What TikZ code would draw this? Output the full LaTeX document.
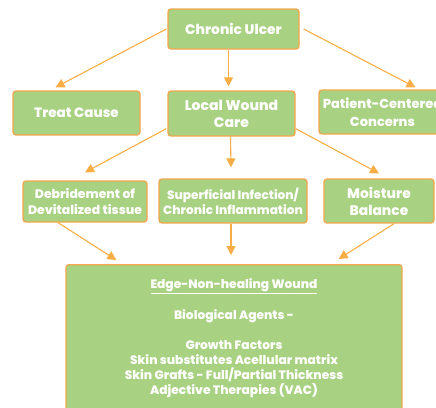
\documentclass[tikz,border=0pt]{standalone}
\usepackage{fontspec}
\setmainfont{Poppins}[BoldFont={Poppins ExtraBold}]
\usetikzlibrary{arrows.meta}
\definecolor{boxgreen}{HTML}{A8D182}
\definecolor{boxedge}{HTML}{F4A64C}
\definecolor{arrowor}{HTML}{F8AE44}
\begin{document}
\begin{tikzpicture}[x=1pt,y=-1pt,
  box/.style={draw=boxedge, line width=1.3pt, fill=boxgreen, rounded corners=3pt,
    text=white, align=center, inner sep=0pt, font=\bfseries},
  arr/.style={draw=arrowor, line width=1.1pt, -{Triangle[length=9pt,width=9pt]}}]
\useasboundingbox (0,0) rectangle (436,407);
\clip (0,0) rectangle (436,407);

% top level
\node[box, minimum width=131pt, minimum height=40pt, font=\bfseries\fontsize{13.8}{15}\selectfont] (cu) at (233.5,29) {Chronic Ulcer};

% second level
\node[box, minimum width=127pt, minimum height=44pt, font=\bfseries\fontsize{13.5}{15}\selectfont] (tc) at (76.5,113) {Treat Cause};
\node[box, minimum width=127pt, minimum height=45pt, font=\bfseries\fontsize{14}{17}\selectfont] (lwc) at (231.5,113.5) {Local Wound\\Care};
\node[box, minimum width=127pt, minimum height=44pt, font=\bfseries\fontsize{13}{17.5}\selectfont] (pcc) at (382.5,112) {Patient-Centered\\Concerns};

% third level
\node[box, minimum width=124pt, minimum height=41pt, font=\bfseries\fontsize{12.4}{16}\selectfont] (deb) at (85,201.5) {Debridement of\\Devitalized tissue};
\node[box, minimum width=148pt, minimum height=44pt, font=\bfseries\fontsize{12.1}{15}\selectfont] (sup) at (233,201) {Superficial Infection/\\Chronic Inflammation};
\node[box, minimum width=110pt, minimum height=44pt, font=\bfseries\fontsize{13.8}{17}\selectfont] (moist) at (379,201) {Moisture\\Balance};

% bottom box
\node[box, minimum width=336pt, minimum height=160pt, anchor=north] (big) at (234,264) {};
\node[text=white, align=center, anchor=north, inner sep=0pt, font=\bfseries\fontsize{12.2}{15}\selectfont] (bigtext) at ([yshift=-14pt]big.north)
  {\underline{Edge-Non-healing Wound}\\[15pt]Biological Agents -\\[15pt]Growth Factors\\Skin substitutes Acellular matrix\\Skin Grafts - Full/Partial Thickness\\Adjective Therapies (VAC)};

% connectors
\draw[arr] ([xshift=-1pt]cu.west) -- ([xshift=-21pt,yshift=3pt]tc.north);
\draw[arr] ([xshift=-5pt]cu.south) -- ([xshift=-3pt,yshift=4pt]lwc.north);
\draw[arr] ([xshift=4pt]cu.east) -- ([xshift=33pt,yshift=2pt]pcc.north);

\draw[arr] ([xshift=-1pt,yshift=8pt]lwc.south west) -- ([yshift=8pt]deb.north);
\draw[arr] ([xshift=-1pt]lwc.south) -- ([xshift=-2pt,yshift=11pt]sup.north);
\draw[arr] ([yshift=8pt]lwc.south east) -- ([yshift=5pt]moist.north);

\draw[arr] ([xshift=-27pt]deb.south) -- ([xshift=51pt,yshift=4pt]big.north west);
\draw[arr] ([xshift=-2pt]sup.south) -- ([xshift=-3pt,yshift=9pt]big.north);
\draw[arr] ([xshift=15pt]moist.south) -- ([xshift=-64pt,yshift=5pt]big.north east);
\end{tikzpicture}
\end{document}
